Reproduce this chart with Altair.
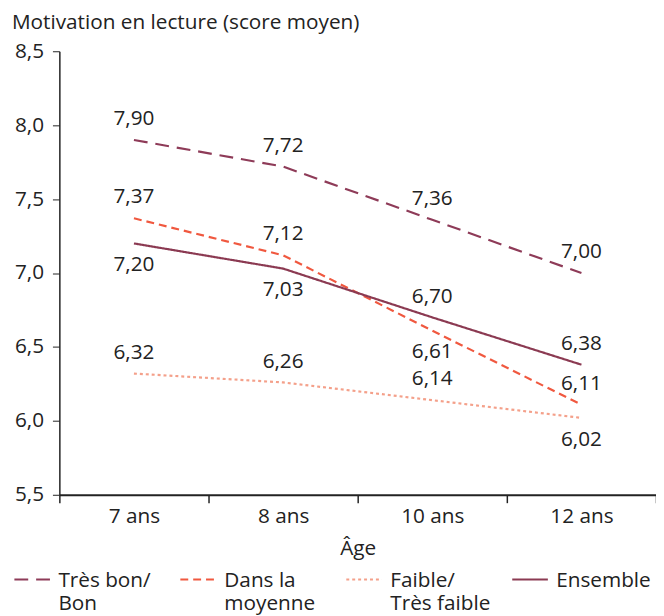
import altair as alt
import pandas as pd

ages = ["7 ans", "8 ans", "10 ans", "12 ans"]
series = ["Très bon/|Bon", "Dans la|moyenne", "Faible/|Très faible", "Ensemble| "]
tres_bon = [7.90, 7.72, 7.36, 7.00]
moyenne = [7.37, 7.12, 6.61, 6.11]
faible = [6.32, 6.26, 6.14, 6.02]
ensemble = [7.20, 7.03, 6.70, 6.38]
# label placement: "up" = above the point, "down" = below
pos_tres_bon = ["up", "up", "up", "up"]
pos_moyenne = ["up", "up", "down", "up"]
pos_faible = ["up", "up", "up", "down"]
pos_ensemble = ["down", "down", "up", "up"]

colors = ["#8E3B58", "#F0583F", "#F4A08A", "#8B3A52"]
dashes = [[14, 8], [8, 5], [3, 3], [1, 0]]
widths = [2.2, 2.2, 2.5, 4.5]

rows = []
for s, vals, poss in zip(series, [tres_bon, moyenne, faible, ensemble],
                         [pos_tres_bon, pos_moyenne, pos_faible, pos_ensemble]):
    for a, v, p in zip(ages, vals, poss):
        rows.append({"Série": s, "Âge": a, "val": v, "pos": p,
                     "lab": f"{v:.2f}".replace(".", ",")})
df = pd.DataFrame(rows)

FONT = "Open Sans"
FS = 21

x = alt.X("Âge:N", sort=ages, title="Âge",
          axis=alt.Axis(labelAngle=0, tickBand="extent", labelFontSize=FS,
                        titleFontSize=FS, titleFontWeight="normal", labelPadding=3,
                        tickSize=8, domainWidth=2, tickWidth=1.5, titlePadding=11,
                        domainColor="#222", tickColor="#222"))
y = alt.Y("val:Q", title=None,
          scale=alt.Scale(domain=[5.5, 8.5], nice=False, zero=False),
          axis=alt.Axis(values=[5.5, 6.0, 6.5, 7.0, 7.5, 8.0, 8.5], grid=False,
                        labelExpr="replace(format(datum.value, '.1f'), '.', ',')",
                        labelFontSize=FS, tickSize=7, domainWidth=1.5,
                        domainColor="#222", tickColor="#222", labelPadding=9))

lines = alt.Chart(df).mark_line().encode(
    x=x, y=y,
    color=alt.Color("Série:N", sort=series,
                    scale=alt.Scale(domain=series, range=colors),
                    legend=alt.Legend(title=None, orient="none", legendX=-47, legendY=506,
                                      direction="horizontal", columns=4, gridAlign="all",
                                      symbolType="M-1,0.5L1,0.5", symbolSize=1300,
                                      symbolFillColor="transparent",
                                      labelFontSize=FS, labelExpr="split(datum.label, '|')",
                                      columnPadding=17, labelLimit=200, labelOffset=7,
                                      labelBaseline="top")),
    strokeDash=alt.StrokeDash("Série:N", sort=series,
                              scale=alt.Scale(domain=series, range=dashes)),
    strokeWidth=alt.StrokeWidth("Série:N", sort=series,
                                scale=alt.Scale(domain=series, range=widths)),
)

up = alt.Chart(df).transform_filter(alt.datum.pos == "up").mark_text(
    dy=-21, fontSize=FS, font=FONT, color="#222").encode(x=x, y=y, text="lab:N")
down = alt.Chart(df).transform_filter(alt.datum.pos == "down").mark_text(
    dy=22, fontSize=FS, font=FONT, color="#222").encode(x=x, y=y, text="lab:N")

chart = alt.layer(lines, up, down).properties(
    width=604, height=449,
    autosize=alt.AutoSizeParams(type="none"),
    padding={"left": 52, "top": 40, "right": 0, "bottom": 125},
    title=alt.TitleParams("Motivation en lecture (score moyen)", anchor="start",
                          frame="group", dx=-48, fontSize=FS, fontWeight="normal",
                          font=FONT, color="#222", offset=8),
).configure(font=FONT).configure_view(stroke=None).configure_axis(
    labelFont=FONT, titleFont=FONT, labelColor="#222", titleColor="#222"
).configure_legend(labelFont=FONT, labelColor="#222")

chart.save("out.html", embed_options={"renderer": "svg", "actions": False})
